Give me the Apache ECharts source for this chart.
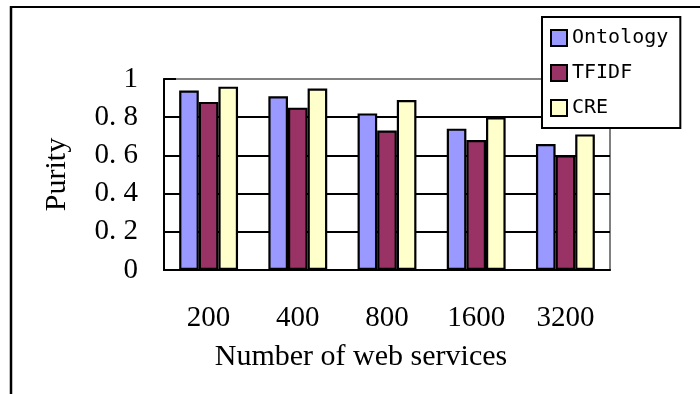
<!DOCTYPE html>
<html><head><meta charset="utf-8">
<script src="https://cdn.jsdelivr.net/npm/echarts@6/dist/echarts.min.js"></script>
<style>html,body{margin:0;padding:0;background:#fff}#c{width:700px;height:394px}</style>
</head><body><div id="c"></div>
<script>
var categories = ['200', '400', '800', '1600', '3200'];
var ontology = [0.94, 0.91, 0.82, 0.74, 0.66];
var tfidf = [0.88, 0.85, 0.73, 0.68, 0.60];
var cre = [0.96, 0.95, 0.89, 0.80, 0.71];
var yTickLabels = ['0', '0. 2', '0. 4', '0. 6', '0. 8', '1'];
var seriesNames = ['Ontology', 'TFIDF', 'CRE'];

var serif = '"Liberation Serif", "DejaVu Serif", serif';
var chart = echarts.init(document.getElementById('c'), null, {renderer: 'canvas'});
function bar(name, data, color) {
  return {
    name: name, type: 'bar', data: data,
    barGap: '0%', barCategoryGap: '34%',
    itemStyle: {color: color, borderColor: '#000', borderWidth: 2.2},
    emphasis: {disabled: true}
  };
}
chart.setOption({
  animation: false,
  backgroundColor: '#fff',
  grid: {left: 164, right: 90, top: 79, bottom: 124, show: true, borderColor: '#808080', borderWidth: 2, backgroundColor: 'transparent'},
  legend: {
    orient: 'vertical', left: 542, top: 17,
    padding: [11, 12, 10, 8], itemGap: 15,
    itemWidth: 16, itemHeight: 16, icon: 'rect', itemTextGap: 6,
    backgroundColor: '#fff', borderColor: '#000', borderWidth: 2,
    textStyle: {fontFamily: '"DejaVu Sans Mono", monospace', fontSize: 20, color: '#000'},
    itemStyle: {borderColor: '#000', borderWidth: 2},
    data: seriesNames
  },
  xAxis: {
    type: 'category', data: categories,
    name: 'Number of web services', nameLocation: 'middle', nameGap: 72,
    nameTextStyle: {fontFamily: serif, fontSize: 30, color: '#000', padding: [0, 52, 0, 0]},
    axisLine: {lineStyle: {color: '#000', width: 2}},
    axisTick: {inside: true, length: 10, lineStyle: {color: '#000', width: 2}},
    axisLabel: {fontFamily: serif, fontSize: 29, color: '#000', margin: 34},
    splitLine: {show: false}
  },
  yAxis: {
    type: 'value', min: 0, max: 1, interval: 0.2,
    name: 'Purity', nameLocation: 'middle', nameGap: 92, nameRotate: 90,
    nameTextStyle: {fontFamily: serif, fontSize: 30, color: '#000'},
    axisLine: {show: true, lineStyle: {color: '#000', width: 2}},
    axisTick: {show: true, inside: true, length: 12, lineStyle: {color: '#000', width: 2}},
    axisLabel: {fontFamily: serif, fontSize: 29, color: '#000', margin: 26,
      formatter: function (v) { return yTickLabels[Math.round(v / 0.2)]; }},
    splitLine: {show: true, showMinLine: false, showMaxLine: false, lineStyle: {color: '#000', width: 2}}
  },
  series: [
    bar(seriesNames[0], ontology, '#9999FF'),
    bar(seriesNames[1], tfidf, '#993366'),
    bar(seriesNames[2], cre, '#FFFFCC')
  ],
  graphic: [
    {type: 'line', shape: {x1: 11, y1: 7, x2: 700, y2: 7}, style: {stroke: '#000', lineWidth: 2}, silent: true},
    {type: 'line', shape: {x1: 11, y1: 6, x2: 11, y2: 394}, style: {stroke: '#000', lineWidth: 2.5}, silent: true}
  ]
});
</script></body></html>
